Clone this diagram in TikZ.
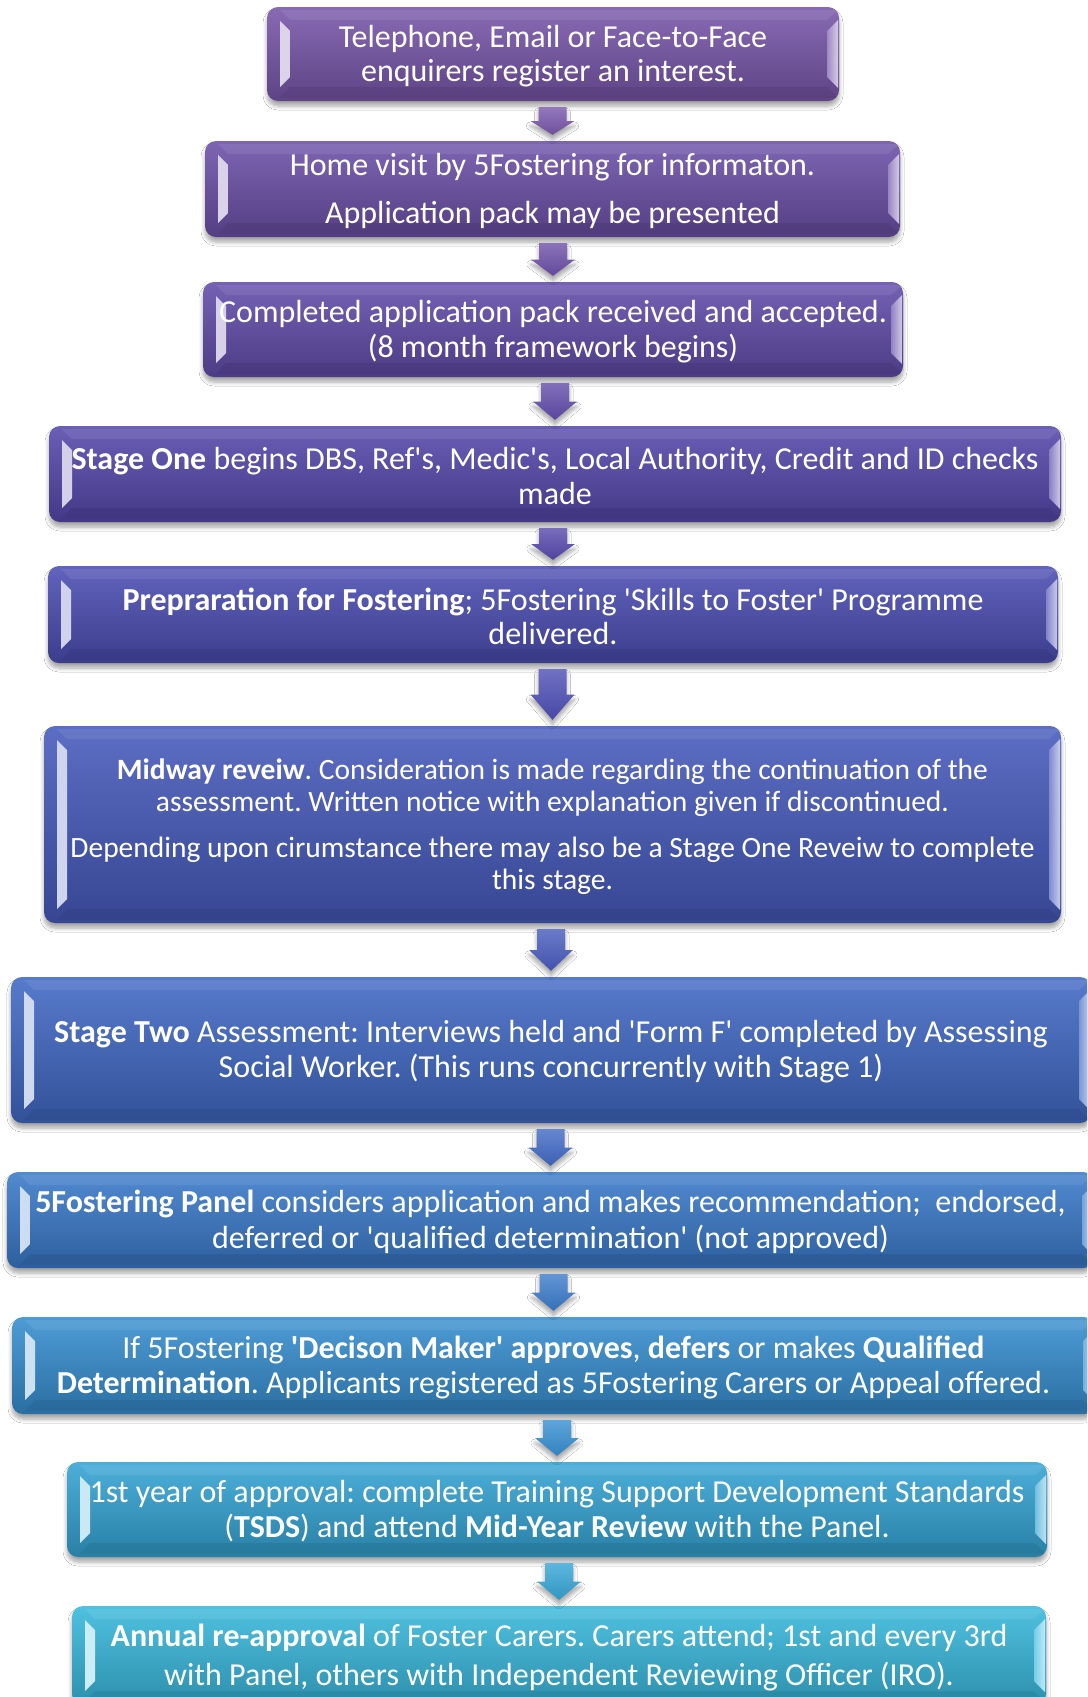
\documentclass[tikz,border=0pt]{standalone}
\usepackage{fontspec}
\setmainfont{Carlito}[Ligatures=TeXOff]
\usetikzlibrary{calc,shadows.blur}
\frenchspacing

% stage colours, purple through to cyan
\definecolor{c1}{RGB}{120,86,170}
\definecolor{c2}{RGB}{108,80,168}
\definecolor{c3}{RGB}{98,76,170}
\definecolor{c4}{RGB}{86,72,172}
\definecolor{c5}{RGB}{76,78,180}
\definecolor{c6}{RGB}{70,90,188}
\definecolor{c7}{RGB}{64,104,196}
\definecolor{c8}{RGB}{58,122,202}
\definecolor{c9}{RGB}{54,142,208}
\definecolor{c10}{RGB}{52,164,212}
\definecolor{c11}{RGB}{56,184,220}

\tikzset{
  softshadow/.style={blur shadow={shadow xshift=0pt, shadow yshift=-5pt,
      shadow blur steps=6, shadow blur radius=4pt, shadow opacity=35}},
  panel/.style={rounded corners=11pt, inner sep=0pt,
    top color=#1!88!white, bottom color=#1!78!black, softshadow,
    path picture={
      \path[sharp corners] let \p1=(path picture bounding box.north west),
                \p2=(path picture bounding box.south east) in
        % lit left face
        [left color=#1!25!white, right color=#1!55!white]
        (\x1+13pt,\y1-14pt) -- (\x1+23pt,\y1-24pt) -- (\x1+23pt,\y2+24pt)
          -- (\x1+13pt,\y2+14pt) -- cycle;
      \path[sharp corners] let \p1=(path picture bounding box.north west),
                \p2=(path picture bounding box.south east) in
        % lit right face
        [left color=#1!70!white, right color=#1!30!white]
        (\x2-12pt,\y1-24pt) -- (\x2-1pt,\y1-13pt) -- (\x2-1pt,\y2+13pt)
          -- (\x2-12pt,\y2+24pt) -- cycle;
      \path[sharp corners] let \p1=(path picture bounding box.north west),
                \p2=(path picture bounding box.south east) in
        % shaded bottom face
        [fill=#1!70!black, opacity=.45]
        (\x1+23pt,\y2+14pt) -- (\x2-12pt,\y2+14pt) -- (\x2-1pt,\y2+3pt)
          -- (\x1+13pt,\y2+3pt) -- cycle;
      \path[sharp corners] let \p1=(path picture bounding box.north west),
                \p2=(path picture bounding box.south east) in
        % top face
        [fill=white, opacity=.08]
        (\x1+13pt,\y1-3pt) -- (\x2-1pt,\y1-3pt) -- (\x2-12pt,\y1-13pt)
          -- (\x1+23pt,\y1-13pt) -- cycle;
    }},
  stagetext/.style={inner sep=0pt, align=center, text=white},
  arrowfill/.style={top color=#1!80!white, bottom color=#1!92!black, softshadow},
}

% a stage box from its outer corners: name, x0, y0, x1, y1, colour, size, skip, text
\newcommand{\stagebox}[9]{%
  \node[panel=#6, minimum width={(#4)-(#2)}, minimum height={(#5)-(#3)}]
    (#1) at ({((#2)+(#4))/2},{-((#3)+(#5))/2}) {};
  \node[stagetext, font={\fontsize{#7}{#8}\selectfont}]
    (#1t) at ([yshift=-2pt]#1.center) {#9};}

% block arrow from one box down to the next
\newcommand{\flowarrow}[3]{%
  \path[arrowfill=#3] let \p1=(#1.south), \p2=(#2.north),
      \n1={\y1-6pt}, \n2={\y2+6pt}, \n3={(\n1+\n2)/2} in
    (\x2-14pt,\n1) -- (\x2+14pt,\n1) -- (\x2+14pt,\n3) -- (\x2+22pt,\n3)
    -- (\x2,\n2) -- (\x2-22pt,\n3) -- (\x2-14pt,\n3) -- cycle;}

\begin{document}
\begin{tikzpicture}[x=1pt,y=1pt]
\useasboundingbox (0,0) rectangle (1087,-1697);
\fill[white] (0,0) rectangle (1087,-1697);
\clip (0,0) rectangle (1087,-1697);

\stagebox{b1}{267}{7}{839}{101}{c1}{32}{34.5}
  {Telephone, Email or Face-to-Face\\enquirers register an interest.}
\stagebox{b2}{205}{141}{900}{237}{c2}{32}{34.5}
  {Home visit by 5Fostering for informaton.\\[13pt]Application pack may be presented}
\stagebox{b3}{203}{282}{903}{377}{c3}{32}{34.5}
  {Completed application pack received and accepted.\\(8 month framework begins)}
\stagebox{b4}{49}{426}{1061}{522}{c4}{32}{34.5}
  {\textbf{Stage One} begins DBS, Ref's, Medic's, Local Authority, Credit and ID checks\\made}
\stagebox{b5}{48}{566}{1058}{663}{c5}{32}{34.5}
  {\textbf{Prepraration for Fostering}; 5Fostering 'Skills to Foster' Programme\\delivered.}
\stagebox{b6}{44}{726}{1061}{923}{c6}{29.5}{32.5}
  {\textbf{Midway reveiw}. Consideration is made regarding the continuation of the\\
   assessment. Written notice with explanation given if discontinued.\\[13pt]
   Depending upon cirumstance there may also be a Stage One Reveiw to complete\\this stage.}
\stagebox{b7}{11}{977}{1091}{1123}{c7}{32}{35}
  {\textbf{Stage Two} Assessment: Interviews held and 'Form F' completed by Assessing\\
   Social Worker. (This runs concurrently with Stage 1)}
\stagebox{b8}{7}{1172}{1094}{1268}{c8}{32}{35.5}
  {\textbf{5Fostering Panel} considers application and makes recommendation;~ endorsed,\\
   deferred or 'qualified determination' (not approved)}
\stagebox{b9}{12}{1317}{1095}{1414}{c9}{32}{35.5}
  {If 5Fostering \textbf{'Decison Maker' approves}, \textbf{defers} or makes \textbf{Qualified}\\
   \textbf{Determination}. Applicants registered as 5Fostering Carers or Appeal offered.}
\stagebox{b10}{67}{1462}{1047}{1557}{c10}{32}{35}
  {1st year of approval: complete Training Support Development Standards\\
   (\textbf{TSDS}) and attend \textbf{Mid-Year Review} with the Panel.}
\stagebox{b11}{72}{1606}{1046}{1705}{c11}{32}{39}
  {\textbf{Annual re-approval} of Foster Carers. Carers attend; 1st and every 3rd\\
   with Panel, others with Independent Reviewing Officer (IRO).}

\flowarrow{b1}{b2}{c1}
\flowarrow{b2}{b3}{c2}
\flowarrow{b3}{b4}{c3}
\flowarrow{b4}{b5}{c4}
\flowarrow{b5}{b6}{c5}
\flowarrow{b6}{b7}{c6}
\flowarrow{b7}{b8}{c7}
\flowarrow{b8}{b9}{c8}
\flowarrow{b9}{b10}{c9}
\flowarrow{b10}{b11}{c10}
\end{tikzpicture}
\end{document}
